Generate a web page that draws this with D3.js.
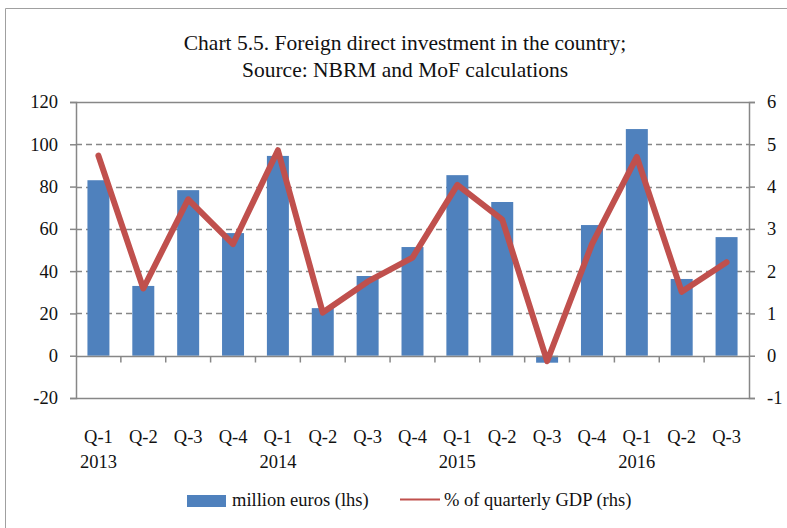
<!DOCTYPE html>
<html>
<head>
<meta charset="utf-8">
<script src="https://cdn.jsdelivr.net/npm/d3@7.9.0/dist/d3.min.js"></script>
<style>
  body { margin: 0; background: #fff; }
  svg { display: block; font-family: "Liberation Serif", "DejaVu Serif", serif; }
</style>
</head>
<body>
<div id="chart"></div>
<script>
// Data
const quarters = ['Q-1', 'Q-2', 'Q-3', 'Q-4', 'Q-1', 'Q-2', 'Q-3', 'Q-4', 'Q-1', 'Q-2', 'Q-3', 'Q-4', 'Q-1', 'Q-2', 'Q-3'];
const years = ['2013', '', '', '', '2014', '', '', '', '2015', '', '', '', '2016', '', ''];
const millionEuros = [83, 33, 78.3, 58, 94.5, 22.5, 37.7, 51.4, 85.4, 72.7, -3.3, 61.8, 107.2, 36.3, 56.1];
const gdpShare = [4.73, 1.59, 3.70, 2.64, 4.86, 1.02, 1.75, 2.32, 4.04, 3.22, -0.13, 2.64, 4.70, 1.51, 2.21];
const leftTicks = [-20, 0, 20, 40, 60, 80, 100, 120];
const rightTicks = [-1, 0, 1, 2, 3, 4, 5, 6];

const width = 787;
const height = 528;
const margin = { top: 102, right: 38, bottom: 130, left: 76 };

const svg = d3.select('#chart')
    .append('svg')
    .attr('width', width)
    .attr('height', height);

// outer frame (top and left edges visible)
svg.append('path')
    .attr('d', `M5.5,${height} V8.5 H${width}`)
    .attr('fill', 'none')
    .attr('stroke', '#a0a0a0')
    .attr('stroke-width', 1);

// title
const title = svg.append('text')
    .attr('text-anchor', 'middle')
    .attr('font-size', 21.5)
    .attr('fill', '#111');
title.append('tspan').attr('x', 405).attr('y', 50).text('Chart 5.5. Foreign direct investment in the country;');
title.append('tspan').attr('x', 405).attr('y', 77).text('Source: NBRM and MoF calculations');

const x = d3.scaleBand()
    .domain(d3.range(quarters.length))
    .range([margin.left, width - margin.right])
    .paddingInner(0.51)
    .paddingOuter(0.255);

const yL = d3.scaleLinear().domain([-20, 120]).range([height - margin.bottom, margin.top]);
const yR = d3.scaleLinear().domain([-1, 6]).range([height - margin.bottom, margin.top]);

const plotLeft = margin.left;
const plotRight = width - margin.right;

// gridlines
svg.append('g')
    .selectAll('line')
    .data(leftTicks.filter(d => d !== 0 && d !== -20))
    .join('line')
    .attr('x1', plotLeft)
    .attr('x2', plotRight)
    .attr('y1', d => Math.round(yL(d)) + 0.5)
    .attr('y2', d => Math.round(yL(d)) + 0.5)
    .attr('stroke', '#878787')
    .attr('stroke-width', 1.5)
    .attr('stroke-dasharray', d => d === 120 ? null : '6,4');

// bottom line of plot area
svg.append('line')
    .attr('x1', plotLeft).attr('x2', plotRight)
    .attr('y1', Math.round(yL(-20)) + 0.5).attr('y2', Math.round(yL(-20)) + 0.5)
    .attr('stroke', '#878787').attr('stroke-width', 1.5);

// bars
svg.append('g')
    .selectAll('rect')
    .data(millionEuros)
    .join('rect')
    .attr('x', (d, i) => x(i))
    .attr('width', x.bandwidth())
    .attr('y', d => yL(Math.max(0, d)))
    .attr('height', d => Math.abs(yL(d) - yL(0)))
    .attr('fill', '#4f81bd');

const fmt = d => String(d).replace('\u2212', '-');

// left axis
const axisL = svg.append('g')
    .attr('transform', `translate(${plotLeft},0)`)
    .call(d3.axisLeft(yL).tickValues(leftTicks).tickFormat(fmt).tickSize(6).tickPadding(12));
// right axis
const axisR = svg.append('g')
    .attr('transform', `translate(${plotRight},0)`)
    .call(d3.axisRight(yR).tickValues(rightTicks).tickFormat(fmt).tickSize(6).tickPadding(12));

[axisL, axisR].forEach(a => {
    a.select('.domain').attr('stroke', '#878787').attr('stroke-width', 1.5);
    a.selectAll('.tick line').attr('stroke', '#878787').attr('stroke-width', 1.5);
    a.selectAll('.tick text')
        .attr('font-size', 18.5)
        .attr('fill', '#111')
        .attr('font-family', '"Liberation Serif", serif');
});

// zero axis with category ticks
const zeroY = Math.round(yL(0)) + 0.5;
svg.append('line')
    .attr('x1', plotLeft).attr('x2', plotRight)
    .attr('y1', zeroY).attr('y2', zeroY)
    .attr('stroke', '#878787').attr('stroke-width', 1.5);
const step = x.step();
svg.append('g')
    .selectAll('line')
    .data(d3.range(1, quarters.length))
    .join('line')
    .attr('x1', i => x(i) - step * x.paddingInner() / 2)
    .attr('x2', i => x(i) - step * x.paddingInner() / 2)
    .attr('y1', zeroY)
    .attr('y2', zeroY + 6)
    .attr('stroke', '#878787')
    .attr('stroke-width', 1.5);

// line series
const line = d3.line()
    .x((d, i) => x(i) + x.bandwidth() / 2)
    .y(d => yR(d));
svg.append('path')
    .datum(gdpShare)
    .attr('d', line)
    .attr('fill', 'none')
    .attr('stroke', '#c0504d')
    .attr('stroke-width', 6)
    .attr('stroke-linejoin', 'round')
    .attr('stroke-linecap', 'round');

// category labels
svg.append('g')
    .selectAll('text')
    .data(quarters)
    .join('text')
    .attr('x', (d, i) => x(i) + x.bandwidth() / 2)
    .attr('y', 443)
    .attr('text-anchor', 'middle')
    .attr('font-size', 18.5)
    .attr('fill', '#111')
    .text(d => d);
svg.append('g')
    .selectAll('text')
    .data(years)
    .join('text')
    .attr('x', (d, i) => x(i) + x.bandwidth() / 2)
    .attr('y', 468)
    .attr('text-anchor', 'middle')
    .attr('font-size', 18.5)
    .attr('fill', '#111')
    .text(d => d);

// legend
const legend = svg.append('g').attr('font-size', 18.5).attr('fill', '#111');
legend.append('rect')
    .attr('x', 187).attr('y', 495).attr('width', 39).attr('height', 12)
    .attr('fill', '#4f81bd');
legend.append('text').attr('x', 232).attr('y', 506).text('million euros (lhs)');
legend.append('line')
    .attr('x1', 400).attr('x2', 440).attr('y1', 499.5).attr('y2', 499.5)
    .attr('stroke', '#c0504d').attr('stroke-width', 2);
legend.append('text').attr('x', 444).attr('y', 506).text('% of quarterly GDP (rhs)');
</script>
</body>
</html>
